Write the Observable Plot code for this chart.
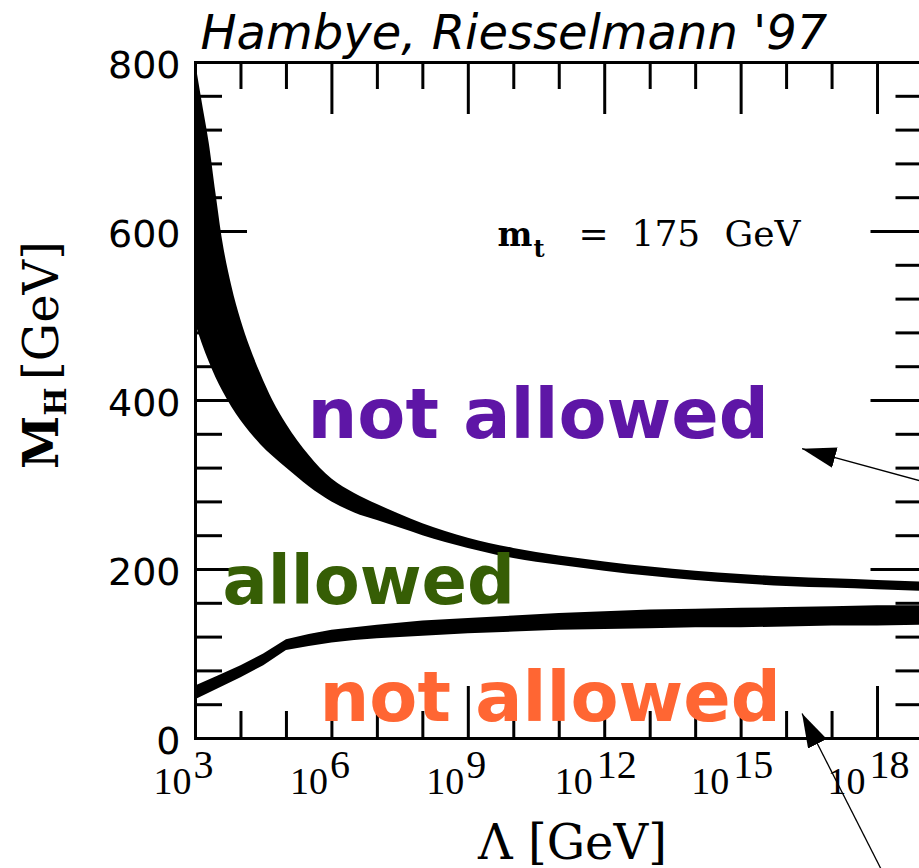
<!DOCTYPE html>
<html><head><meta charset="utf-8">
<script src="https://cdn.jsdelivr.net/npm/d3@7"></script>
<script src="https://cdn.jsdelivr.net/npm/@observablehq/plot@0.6"></script>
<style>html,body{margin:0;padding:0;overflow:hidden;background:#fff;width:919px;height:868px}</style>
</head><body><div id="chart"></div>
<script>
// Λ given as log10(Λ / GeV); M_H in GeV
const upperLogL = [3.0,3.15,3.3,3.45,3.6,3.8,4.0,4.2,4.43,4.7,5.0,5.5,6.0,6.5,7.0,7.5,8.0,8.5,9.0,10,11,12,13,14,15,16,17,18,19];
const upperHi   = [800,752,705,645,588,535,495,463,432,400,372,335,307,290,277,265,254,245,237,225,216,209,203,198,194,191,189,187,185];
const upperLo   = [491,467,446,427,411,392,376,362,348,334,320,298,280,267,258,249,240,232,225,213,205,198,192,187,183,180,178,176,174];

const lowerLogL = [3.0,3.5,4.0,4.5,5.0,5.5,6.0,6.5,7.0,8,9,10,11,12,13,14,15,16,17,18,19];
const lowerHi   = [62,74,86,100,117,123,128,131,134,139,142,145,148,150,152,153,154,155,156,157,157];
const lowerLo   = [46,59,72,86,104,109,113,116,118,121,124,126,128,129,130,131,131,132,133,133,134];

const xMajorExps = [6,9,12,15,18];
const xMinorExps = [4,5,7,8,10,11,13,14,16,17];
const xLabelExps = [3,6,9,12,15,18];
const yLabels = [0,200,400,600,800];
const yMajor = [200,400,600];
const yMinor = [40,80,120,160,240,280,320,360,440,480,520,560,640,680,720,760];

// arrows: tail (logΛ, M) -> tip (logΛ, M)
const arrows = [
  {x1: 19.82, y1: 292, x2: 16.34, y2: 343},
  {x1: 18.28, y1: -176, x2: 16.34, y2: 29.6}
];

const W = 960, H = 868, mL = 195, mT = 62, mB = 130, mR = 37.5;
const fw = W - mL - mR, fh = H - mT - mB;
const minorLen = 27, majorLen = 52;

const upper = upperLogL.map((e,i) => ({L: 10**e, hi: upperHi[i], lo: upperLo[i]}));
const lower = lowerLogL.map((e,i) => ({L: 10**e, lo: lowerLo[i], hi: lowerHi[i]}));

const serif = "DejaVu Serif";
const txt = (s, o) => Plot.text([s], Object.assign({frameAnchor: "top-left", text: d => d, lineAnchor: "bottom", textAnchor: "start", fill: "black"}, o));

const plot = Plot.plot({
  width: W, height: H,
  marginLeft: mL, marginRight: mR, marginTop: mT, marginBottom: mB,
  style: {background: "white", overflow: "visible", maxWidth: "none"},
  x: {type: "log", domain: [1e3, 1e19], axis: null},
  y: {domain: [0, 800], axis: null},
  marks: [
    Plot.areaY(upper, {x: "L", y1: "lo", y2: "hi", fill: "black", curve: "monotone-x"}),
    Plot.areaY(lower, {x: "L", y1: "lo", y2: "hi", fill: "black", curve: "linear"}),
    // ticks bottom / top
    Plot.ruleX(xMinorExps, {x: d => 10**d, stroke: "black", strokeWidth: 3, insetTop: fh - minorLen}),
    Plot.ruleX(xMajorExps, {x: d => 10**d, stroke: "black", strokeWidth: 3, insetTop: fh - majorLen}),
    Plot.ruleX(xMinorExps, {x: d => 10**d, stroke: "black", strokeWidth: 3, insetBottom: fh - minorLen}),
    Plot.ruleX(xMajorExps, {x: d => 10**d, stroke: "black", strokeWidth: 3, insetBottom: fh - majorLen}),
    // ticks left / right
    Plot.ruleY(yMinor, {y: d => d, stroke: "black", strokeWidth: 3, insetRight: fw - minorLen}),
    Plot.ruleY(yMajor, {y: d => d, stroke: "black", strokeWidth: 3, insetRight: fw - majorLen}),
    Plot.ruleY(yMinor, {y: d => d, stroke: "black", strokeWidth: 3, insetLeft: fw - minorLen}),
    Plot.ruleY(yMajor, {y: d => d, stroke: "black", strokeWidth: 3, insetLeft: fw - majorLen}),
    Plot.frame({stroke: "black", strokeWidth: 3}),
    // y tick labels
    Plot.text(yLabels, {x: 1e3, y: d => d, text: d => String(d), textAnchor: "end", lineAnchor: "middle", dx: -15, dy: 3,
      fontFamily: "DejaVu Sans", fontSize: 38, fill: "black"}),
    // x tick labels 10^n
    Plot.text(xLabelExps.filter(d => d < 10), {x: d => 10**d, y: 0, text: () => "10", textAnchor: "end", lineAnchor: "bottom", dx: -4, dy: 55,
      fontFamily: "Liberation Serif", fontSize: 38, fill: "black"}),
    Plot.text(xLabelExps.filter(d => d >= 10), {x: d => 10**d, y: 0, text: () => "10", textAnchor: "end", lineAnchor: "bottom", dx: -12, dy: 55,
      fontFamily: "Liberation Serif", fontSize: 38, fill: "black"}),
    Plot.text(xLabelExps.filter(d => d < 10), {x: d => 10**d, y: 0, text: d => String(d), textAnchor: "start", lineAnchor: "bottom", dx: -2, dy: 39,
      fontFamily: "Liberation Serif", fontSize: 40, fill: "black"}),
    Plot.text(xLabelExps.filter(d => d >= 10), {x: d => 10**d, y: 0, text: d => String(d), textAnchor: "start", lineAnchor: "bottom", dx: -8, dy: 39,
      fontFamily: "Liberation Serif", fontSize: 40, fill: "black"}),
    // title
    txt("Hambye, Riesselmann '97", {dx: 5, dy: -14, fontFamily: "DejaVu Sans", fontStyle: "italic", fontSize: 48}),
    // axis titles
    txt("Λ [GeV]", {dx: 377, dy: 796, textAnchor: "middle", fontFamily: serif, fontSize: 48}),
    txt("M", {dx: -153, dy: 380, textAnchor: "middle", lineAnchor: "middle", rotate: -90, fontFamily: serif, fontWeight: "bold", fontSize: 48}),
    txt("H", {dx: -139, dy: 339, textAnchor: "middle", lineAnchor: "middle", rotate: -90, fontFamily: serif, fontWeight: "bold", fontSize: 30}),
    txt("[GeV]", {dx: -153, dy: 248, textAnchor: "middle", lineAnchor: "middle", rotate: -90, fontFamily: serif, fontSize: 48}),
    // m_t = 175 GeV
    txt("m", {dx: 302, dy: 183, fontFamily: serif, fontWeight: "bold", fontSize: 33}),
    txt("t", {dx: 338, dy: 194, fontFamily: serif, fontWeight: "bold", fontSize: 24}),
    txt("=", {dx: 383, dy: 183, fontFamily: serif, fontSize: 36}),
    txt("175", {dx: 436, dy: 183, fontFamily: serif, fontSize: 36}),
    txt("GeV", {dx: 529, dy: 183, fontFamily: serif, fontSize: 36}),
    // region labels
    txt("not allowed", {dx: 112, dy: 375, fontFamily: "DejaVu Sans", fontWeight: "bold", fontSize: 70, fill: "#5e16a6"}),
    txt("allowed", {dx: 27, dy: 541, fontFamily: "DejaVu Sans", fontWeight: "bold", fontSize: 67, fill: "#365e05"}),
    txt("not allowed", {dx: 124, dy: 658, fontFamily: "DejaVu Sans", fontWeight: "bold", fontSize: 70, fill: "#ff6633"}),
    // arrows
    Plot.link(arrows, {x1: d => 10**d.x1, y1: "y1", x2: d => 10**d.x2, y2: "y2", stroke: "black", strokeWidth: 1.3})
  ]
});

const svg = d3.select(plot);
svg.append("defs").append("marker")
  .attr("id", "ahead").attr("viewBox", "0 0 34 21").attr("refX", 34).attr("refY", 10.5)
  .attr("markerWidth", 34).attr("markerHeight", 21).attr("markerUnits", "userSpaceOnUse").attr("orient", "auto")
  .append("path").attr("d", "M0,0L34,10.5L0,21Z").attr("fill", "black");
svg.selectAll("g[aria-label=link] path").attr("marker-end", "url(#ahead)");
document.getElementById("chart").appendChild(plot);
</script>
</body></html>
